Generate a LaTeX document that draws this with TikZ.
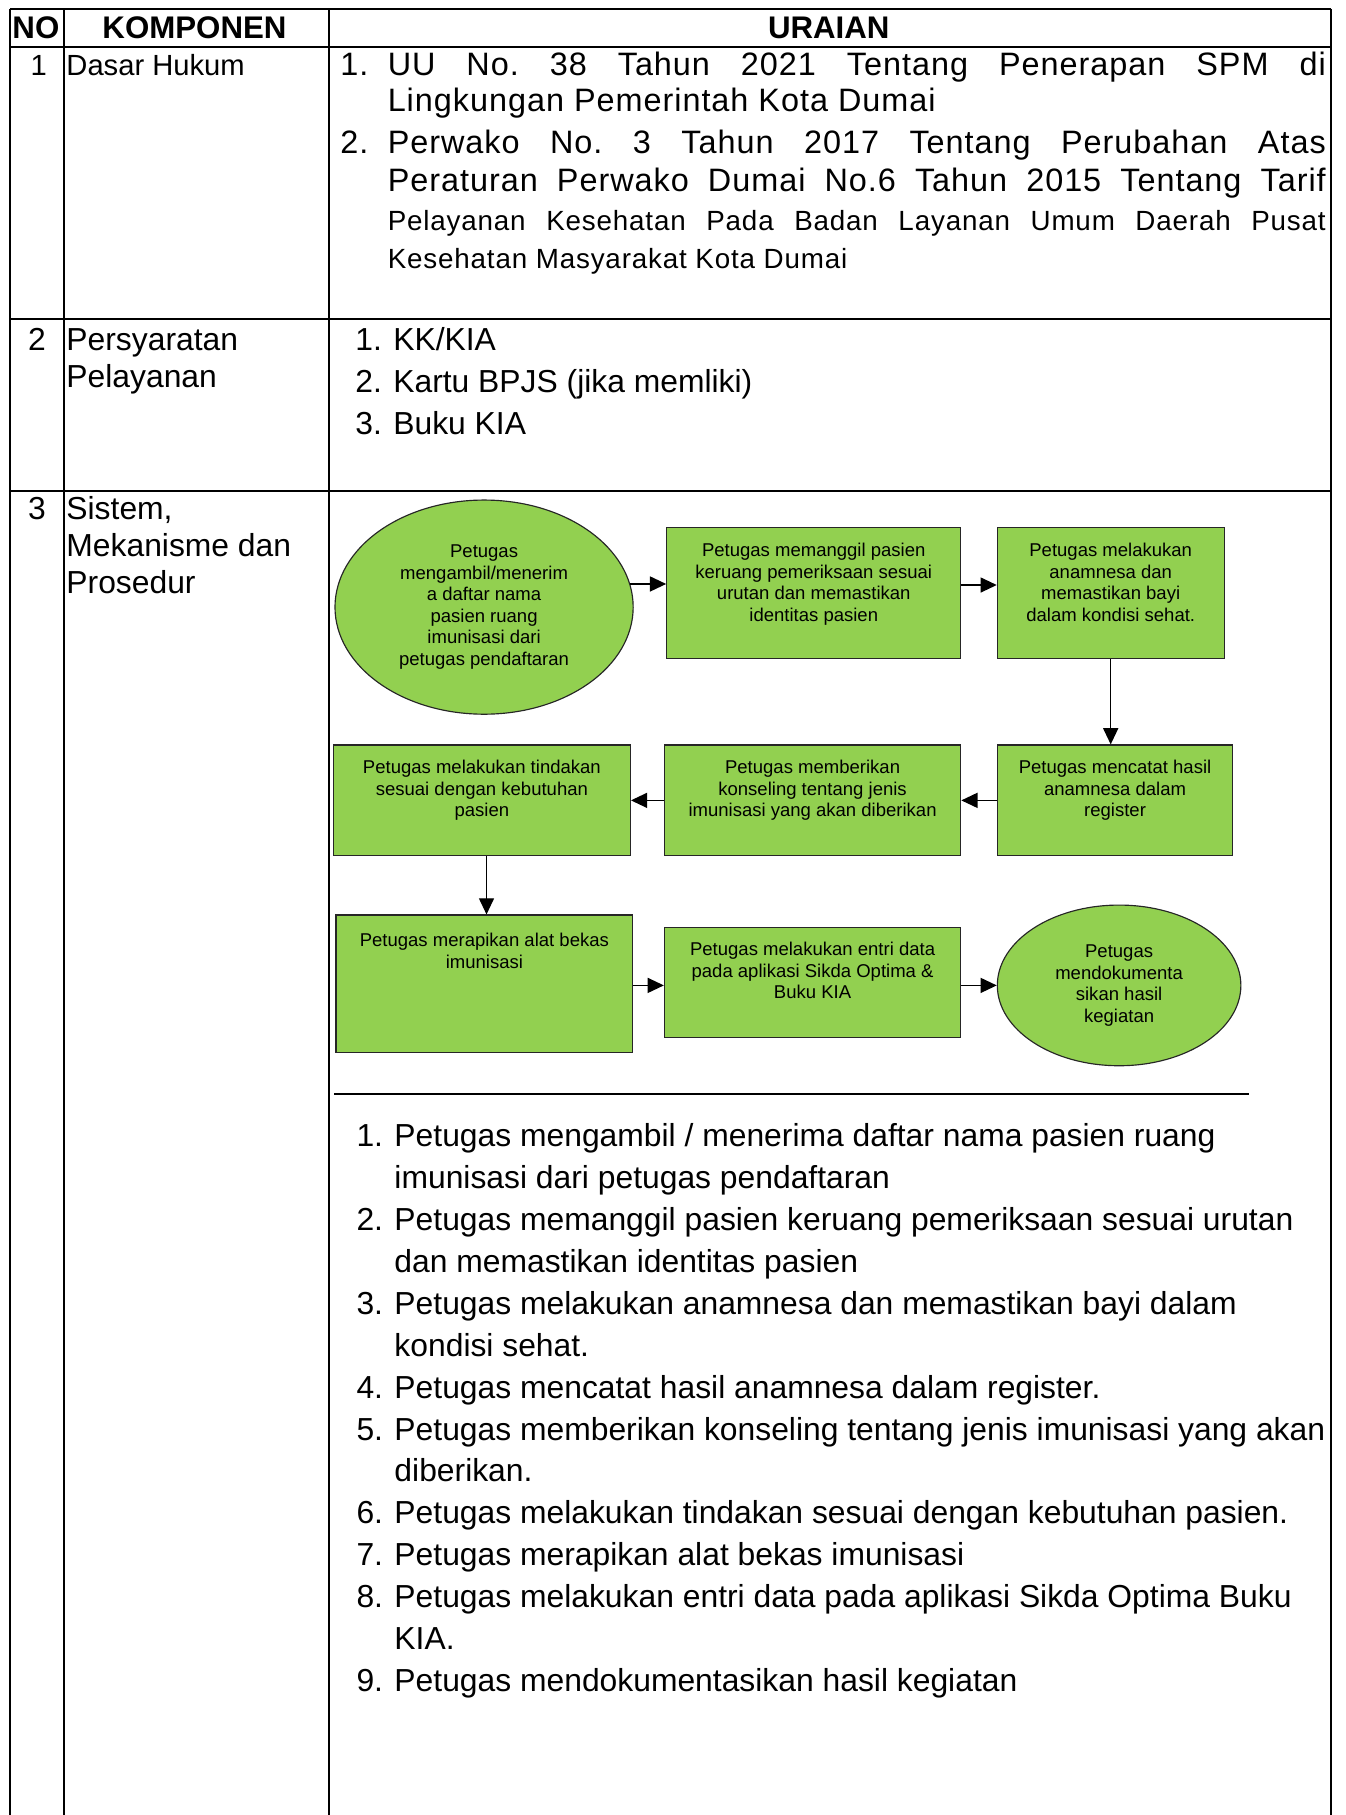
\documentclass[tikz,border=0pt]{standalone}
\usepackage{fontspec}
\setmainfont{Liberation Sans}
\newfontfamily\lsA[LetterSpace=3]{Liberation Sans}
\newfontfamily\lsB[LetterSpace=3]{Liberation Sans}
\usetikzlibrary{shapes.geometric,arrows.meta}
\definecolor{boxgreen}{HTML}{92D050}
\newcommand\bodyfont{\fontsize{13.75}{16}\selectfont}
\newcommand\boxfont{\fontsize{8}{9.3}\selectfont}
\newcommand\hdrfont{\bfseries\fontsize{13.5}{16}\selectfont}
\newcommand\lawfont{\lsA\fontsize{14}{16}\selectfont}
\newcommand\lawsmall{\lsB\fontsize{12}{14}\selectfont}
\frenchspacing
\begin{document}
\frenchspacing
\begin{tikzpicture}[x=0.5pt,y=-0.5pt,
  tline/.style={line width=0.9pt},
  box/.style={rectangle,draw=black!85,fill=boxgreen,line width=0.5pt,inner sep=0pt},
  oval/.style={ellipse,draw=black!85,fill=boxgreen,line width=0.5pt,inner sep=0pt,align=center,font=\boxfont},
  boxtext/.style={inner sep=0pt,align=center,font=\boxfont,anchor=north},
  arr/.style={line width=0.6pt,-{Triangle[length=7pt,width=6.5pt]}},
  hdr/.style={inner sep=0pt,anchor=base,font=\hdrfont},
  body/.style={inner sep=0pt,anchor=base west,font=\bodyfont},
  bodyc/.style={inner sep=0pt,anchor=base,font=\bodyfont},
  law/.style={inner sep=0pt,anchor=base west,font=\lawfont},
  lawsm/.style={inner sep=0pt,anchor=base west,font=\lawsmall}]
\useasboundingbox (0,0) rectangle (1162,1568);

% ---------- table grid ----------
\draw[tline] (8.5,7.5) -- (1149.6,7.5);
\draw[tline] (8.5,40.3) -- (1149.6,40.3);
\draw[tline] (8.5,275.6) -- (1149.6,275.6);
\draw[tline] (8.5,424.2) -- (1149.6,424.2);
\draw[tline] (8.5,7.5) -- (8.5,1568);
\draw[tline] (55.1,7.5) -- (55.1,1568);
\draw[tline] (284.2,7.5) -- (284.2,1568);
\draw[tline] (1149.6,7.5) -- (1149.6,1568);

% ---------- header ----------
\node[hdr] (hNO) at (31,33.1) {NO};
\node[hdr] (hKOM) at (168,33.1) {KOMPONEN};
\node[hdr] (hUR) at (716,33.1) {URAIAN};

% ---------- row 1 ----------
\node[inner sep=0pt,anchor=base,font=\fontsize{12.6}{15}\selectfont] (r1n) at (33.5,64.8) {1};
\node[inner sep=0pt,anchor=base west,font=\fontsize{12.6}{15}\selectfont] (r1k) at (57,64.8) {Dasar Hukum};
\node[law] (d1n) at (293.7,64.8) {1.};
\node[law] (d1a) at (334.6,64.8) {\makebox[405.2pt][s]{UU No. 38 Tahun 2021 Tentang Penerapan SPM di}};
\node[law] (d1b) at (334.6,96.5) {Lingkungan Pemerintah Kota Dumai};
\node[law] (d2n) at (293.7,132.5) {2.};
\node[law] (d2a) at (334.6,132.5) {\makebox[405.2pt][s]{Perwako No. 3 Tahun 2017 Tentang Perubahan Atas}};
\node[law] (d2b) at (334.6,165.6) {\makebox[405.2pt][s]{Peraturan Perwako Dumai No.6 Tahun 2015 Tentang Tarif}};
\node[lawsm] (d2c) at (334.6,198.7) {\makebox[405.2pt][s]{Pelayanan Kesehatan Pada Badan Layanan Umum Daerah Pusat}};
\node[lawsm] (d2d) at (334.6,231.8) {Kesehatan Masyarakat Kota Dumai};

% ---------- row 2 ----------
\node[bodyc] (r2n) at (32,303) {2};
\node[body] (r2k1) at (57,303) {Persyaratan};
\node[body] (r2k2) at (57,334.6) {Pelayanan};
\node[body] (p1n) at (306.6,303) {1.};
\node[body] (p1) at (339.4,303) {KK/KIA};
\node[body] (p2n) at (306.6,339) {2.};
\node[body] (p2) at (339.4,339) {Kartu BPJS (jika memliki)};
\node[body] (p3n) at (306.6,375) {3.};
\node[body] (p3) at (339.4,375) {Buku KIA};

% ---------- row 3 ----------
\node[bodyc] (r3n) at (32,449) {3};
\node[body] (r3k1) at (57,449) {Sistem,};
\node[body] (r3k2) at (57,481) {Mekanisme dan};
\node[body] (r3k3) at (57,512.6) {Prosedur};

% flowchart
\node[oval,minimum width=128.8pt,minimum height=92.5pt] (e1) at (418.2,524.5)
  {Petugas\\mengambil/menerim\\a daftar nama\\pasien ruang\\imunisasi dari\\petugas pendaftaran};
\node[box,minimum width=127pt,minimum height=56.5pt] (b2) at (703,512.5) {};
\node[box,minimum width=97.95pt,minimum height=56.5pt] (b3) at (959.55,512.5) {};
\node[box,minimum width=101.7pt,minimum height=47.85pt] (b4) at (963.3,691.45) {};
\node[box,minimum width=128pt,minimum height=47.85pt] (b5) at (702,691.45) {};
\node[box,minimum width=128.3pt,minimum height=47.85pt] (b6) at (416.3,691.45) {};
\node[box,minimum width=128.15pt,minimum height=59.25pt] (b7) at (418.45,849.75) {};
\node[box,minimum width=128pt,minimum height=47.5pt] (b8) at (702,848.5) {};
\node[oval,minimum width=105.2pt,minimum height=69.4pt] (e9) at (966.8,851.3)
  {Petugas\\mendokumenta\\sikan hasil\\kegiatan};

\node[boxtext] (b2t) at ([yshift=-6.65pt]b2.north) {Petugas memanggil pasien\\keruang pemeriksaan sesuai\\urutan dan memastikan\\identitas pasien};
\node[boxtext] (b3t) at ([yshift=-6.65pt]b3.north) {Petugas melakukan\\anamnesa dan\\memastikan bayi\\dalam kondisi sehat.};
\node[boxtext] (b4t) at ([yshift=-6.65pt]b4.north) {Petugas mencatat hasil\\anamnesa dalam\\register};
\node[boxtext] (b5t) at ([yshift=-6.65pt]b5.north) {Petugas memberikan\\konseling tentang jenis\\imunisasi yang akan diberikan};
\node[boxtext] (b6t) at ([yshift=-6.65pt]b6.north) {Petugas melakukan tindakan\\sesuai dengan kebutuhan\\pasien};
\node[boxtext] (b7t) at ([yshift=-7.9pt]b7.north) {Petugas merapikan alat bekas\\imunisasi};
\node[boxtext] (b8t) at ([yshift=-6.65pt]b8.north) {Petugas melakukan entri data\\pada aplikasi Sikda Optima \&\\Buku KIA};

\coordinate (rowA) at (0,505.4);
\draw[arr] (e1.9) -- (e1.9 -| b2.west);
\draw[arr] (b2.east |- rowA) -- (b3.west |- rowA);
\draw[arr] (b3.south) -- (b3.south |- b4.north);
\draw[arr] (b4.west) -- (b5.east);
\draw[arr] (b5.west) -- (b6.east);
\draw[arr] ([xshift=2pt]b6.south) -- ([xshift=2pt]b6.south |- b7.north);
\draw[arr] (b7.east |- e9.west) -- (b8.west |- e9.west);
\draw[arr] (b8.east |- e9.west) -- (e9.west);

\coordinate (sepL) at (288.6,945.4);
\coordinate (sepR) at (1079.3,945.4);
\draw[tline] (sepL) -- (sepR);

% list
\node[body] (n1) at (307.6,990.7) {1.};
\node[body] (t1a) at (340.4,990.7) {Petugas mengambil / menerima daftar nama pasien ruang};
\node[body] (t1b) at (340.4,1026.9) {imunisasi dari petugas pendaftaran};
\node[body] (n2) at (307.6,1063.1) {2.};
\node[body] (t2a) at (340.4,1063.1) {Petugas memanggil pasien keruang pemeriksaan sesuai urutan};
\node[body] (t2b) at (340.4,1099.3) {dan memastikan identitas pasien};
\node[body] (n3) at (307.6,1135.5) {3.};
\node[body] (t3a) at (340.4,1135.5) {Petugas melakukan anamnesa dan memastikan bayi dalam};
\node[body] (t3b) at (340.4,1171.7) {kondisi sehat.};
\node[body] (n4) at (307.6,1207.9) {4.};
\node[body] (t4) at (340.4,1207.9) {Petugas mencatat hasil anamnesa dalam register.};
\node[body] (n5) at (307.6,1244.1) {5.};
\node[body] (t5a) at (340.4,1244.1) {Petugas memberikan konseling tentang jenis imunisasi yang akan};
\node[body] (t5b) at (340.4,1280.3) {diberikan.};
\node[body] (n6) at (307.6,1316.5) {6.};
\node[body] (t6) at (340.4,1316.5) {Petugas melakukan tindakan sesuai dengan kebutuhan pasien.};
\node[body] (n7) at (307.6,1352.7) {7.};
\node[body] (t7) at (340.4,1352.7) {Petugas merapikan alat bekas imunisasi};
\node[body] (n8) at (307.6,1388.9) {8.};
\node[body] (t8a) at (340.4,1388.9) {Petugas melakukan entri data pada aplikasi Sikda Optima Buku};
\node[body] (t8b) at (340.4,1425.1) {KIA.};
\node[body] (n9) at (307.6,1461.3) {9.};
\node[body] (t9) at (340.4,1461.3) {Petugas mendokumentasikan hasil kegiatan};
\end{tikzpicture}
\end{document}
